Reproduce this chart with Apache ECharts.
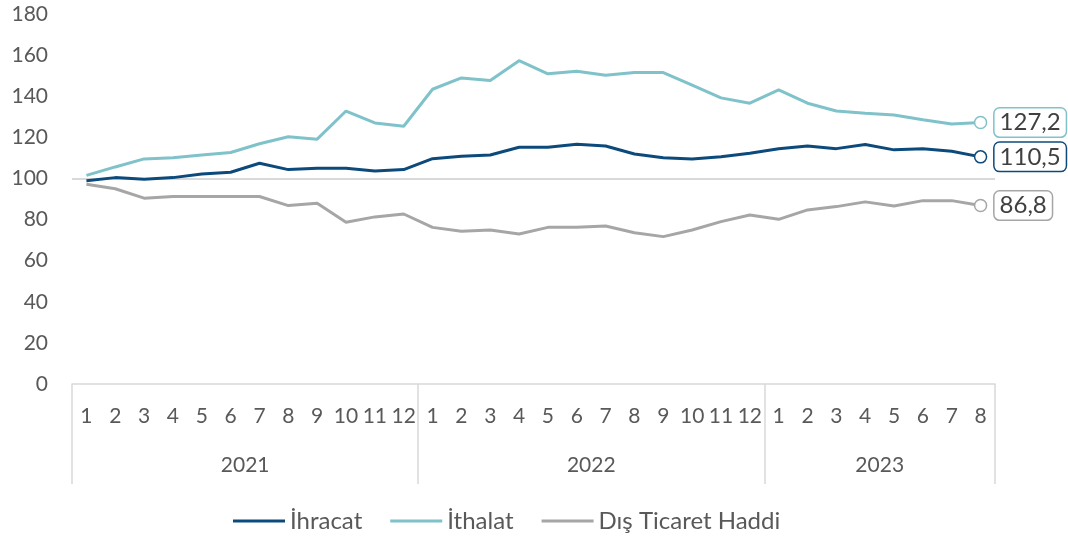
<!DOCTYPE html>
<html>
<head>
<meta charset="utf-8">
<script src="https://cdn.jsdelivr.net/npm/echarts@6/dist/echarts.min.js"></script>
<style>
  html, body { margin: 0; padding: 0; background: #fff; }
  #chart { width: 1068px; height: 538px; }
</style>
</head>
<body>
<div id="chart"></div>
<script>
const months = ["1","2","3","4","5","6","7","8","9","10","11","12",
                "1","2","3","4","5","6","7","8","9","10","11","12",
                "1","2","3","4","5","6","7","8"];
const years = ["2021","2021","2021","2021","2021","2021","2021","2021","2021","2021","2021","2021",
               "2022","2022","2022","2022","2022","2022","2022","2022","2022","2022","2022","2022",
               "2023","2023","2023","2023","2023","2023","2023","2023"];
// yıl başları (ayraç çizgileri) ve yıl etiketinin durduğu indeks
const yearStarts = [0, 12, 24];
const yearLabelIdx = [5, 17, 27];

const ihracat = [98.9, 100.4, 99.6, 100.4, 102.2, 103.0, 107.4, 104.3, 105.0, 105.0, 103.6, 104.3,
                 109.6, 110.8, 111.4, 115.2, 115.2, 116.6, 115.8, 111.9, 110.1, 109.5, 110.6, 112.3,
                 114.4, 115.8, 114.5, 116.5, 113.9, 114.5, 113.2, 110.5];
const ithalat = [101.5, 105.6, 109.5, 110.1, 111.4, 112.6, 116.9, 120.3, 119.1, 132.8, 127.0, 125.4,
                 143.4, 148.9, 147.6, 157.3, 150.9, 152.2, 150.2, 151.5, 151.5, 145.4, 139.2, 136.6,
                 143.1, 136.6, 132.8, 131.7, 130.9, 128.6, 126.5, 127.2];
const disTicaret = [97.2, 95.0, 90.4, 91.2, 91.2, 91.2, 91.2, 86.8, 87.9, 78.7, 81.3, 82.7,
                    76.2, 74.3, 74.9, 73.0, 76.2, 76.2, 76.9, 73.6, 71.7, 74.9, 79.0, 82.2,
                    80.1, 84.7, 86.3, 88.6, 86.6, 89.2, 89.2, 86.8];

const font = "Lato";
const textColor = "#595959";

function withEndMarker(values, color){
    return values.map(function(v, i){
        if(i === values.length - 1){
            return {
                value: v,
                symbol: "circle",
                symbolSize: 12,
                itemStyle: { color: "#fff", borderColor: color, borderWidth: 1.5 }
            };
        }
        return v;
    });
}

function makeSeries(name, values, color, withBase){
    let s = {
        name: name,
        type: "line",
        data: withEndMarker(values, color),
        symbol: "none",
        color: color,
        lineStyle: { width: 3, color: color },
        endLabel: {
            show: true,
            distance: 14,
            formatter: function(p){ return String(p.value).replace(".", ","); },
            color: "#404040",
            fontFamily: font,
            fontSize: 24,
            backgroundColor: "#fff",
            borderColor: color,
            borderWidth: 1.5,
            borderRadius: 5,
            padding: [3, 5, 1, 5]
        },
        animation: false
    };
    if(withBase){
        s.markLine = {
            silent: true,
            symbol: "none",
            z: 1,
            label: { show: false },
            lineStyle: { color: "#d9d9d9", width: 2, type: "solid" },
            data: [{ yAxis: 100 }]
        };
    }
    return s;
}

const chart = echarts.init(document.getElementById("chart"));

let option = {
    animation: false,
    grid: { left: 72, right: 73, top: 14, bottom: 154, containLabel: false },
    legend: {
        bottom: 0,
        left: 228,
        icon: "rect",
        itemWidth: 52,
        itemHeight: 3,
        itemGap: 28,
        textStyle: { color: textColor, fontFamily: font, fontSize: 24 },
        data: ["İhracat", "İthalat", "Dış Ticaret Haddi"]
    },
    xAxis: [
        {
            type: "category",
            data: months,
            position: "bottom",
            axisLine: { show: true, lineStyle: { color: "#d9d9d9", width: 1.5 } },
            axisTick: {
                show: true,
                length: 100,
                lineStyle: { color: "#d9d9d9", width: 1.5 },
                interval: function(index){ return yearStarts.indexOf(index) >= 0; }
            },
            axisLabel: {
                interval: 0,
                margin: 22,
                color: textColor,
                fontFamily: font,
                fontSize: 21
            }
        },
        {
            type: "category",
            data: years,
            position: "bottom",
            axisLine: { show: false },
            axisTick: { show: false },
            axisLabel: {
                interval: function(index){ return yearLabelIdx.indexOf(index) >= 0; },
                margin: 71,
                color: textColor,
                fontFamily: font,
                fontSize: 21,
                padding: [0, 0, 0, 29]
            }
        }
    ],
    yAxis: {
        type: "value",
        min: 0,
        max: 180,
        interval: 20,
        axisLine: { show: false },
        axisTick: { show: false },
        splitLine: { show: false },
        axisLabel: {
            margin: 24,
            color: textColor,
            fontFamily: font,
            fontSize: 21
        }
    },
    series: [
        makeSeries("İhracat", ihracat, "#0d4a7c", true),
        makeSeries("İthalat", ithalat, "#7fc2ca", false),
        makeSeries("Dış Ticaret Haddi", disTicaret, "#a6a6a6", false)
    ]
};

chart.setOption(option);
</script>
</body>
</html>
